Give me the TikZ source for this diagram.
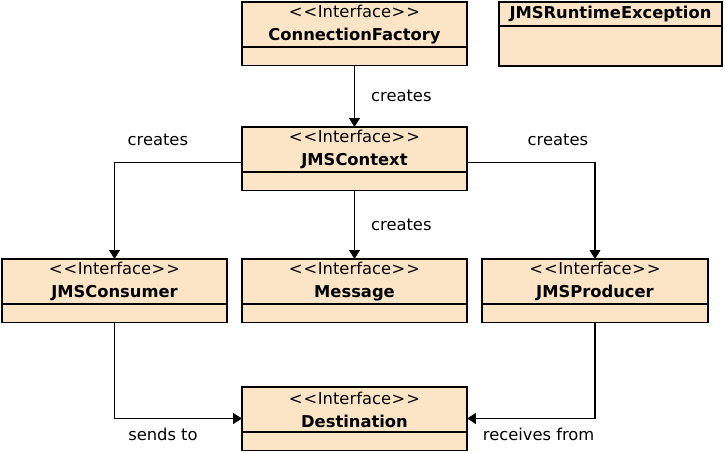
\documentclass[tikz,border=0pt]{standalone}
\usepackage{fontspec}
\setmainfont{DejaVu Sans}
\usetikzlibrary{arrows.meta,positioning}
\definecolor{classfill}{RGB}{252,229,198}
\newcommand{\iface}{\textless\kern0.6pt\textless\kern0.3pt Interface\kern0.3pt\textgreater\kern0.6pt\textgreater}

\begin{document}
\begin{tikzpicture}[
    x=0.02cm,y=-0.02cm,
    head/.style={rectangle,draw,fill=classfill,line width=1pt,outer sep=0pt,inner sep=0pt,minimum width=4.5cm,minimum height=0.9cm,align=center,anchor=north,font=\fontsize{9.3}{13}\selectfont},
    body/.style={rectangle,draw,fill=classfill,line width=1pt,outer sep=0pt,inner sep=0pt,minimum width=4.5cm,minimum height=0.37cm},
    lbl/.style={font=\fontsize{9.3}{11}\selectfont},
    arrow/.style={line width=0.9pt,-{Triangle[width=6pt,length=5pt]}}
]
    \useasboundingbox (0,0) rectangle (725,453);

    % top row
    \node[head] (cf) at (354.5,2) {\iface\\\textbf{ConnectionFactory}};
    \node[body,below=0pt of cf] (cf_body) {};
    \node[head,minimum width=4.46cm,minimum height=0.48cm] (exc) at (610.5,2) {\textbf{JMSRuntimeException}};
    \node[body,minimum width=4.46cm,minimum height=0.8cm,below=0pt of exc] (exc_body) {};

    % context
    \node[head] (ctx) at (354.5,127) {\iface\\\textbf{JMSContext}};
    \node[body,below=0pt of ctx] (ctx_body) {};

    % consumer, message, producer
    \node[head] (cons) at (114.5,259) {\iface\\\textbf{JMSConsumer}};
    \node[body,below=0pt of cons] (cons_body) {};
    \node[head] (msg) at (354.5,259) {\iface\\\textbf{Message}};
    \node[body,below=0pt of msg] (msg_body) {};
    \node[head,minimum width=4.52cm] (prod) at (595,259) {\iface\\\textbf{JMSProducer}};
    \node[body,minimum width=4.52cm,below=0pt of prod] (prod_body) {};

    % destination
    \node[head] (dest) at (354.5,387) {\iface\\\textbf{Destination}};
    \node[body,below=0pt of dest] (dest_body) {};

    % creates
    \draw[arrow] (cf_body) -- node[lbl,right=0.2cm] {creates} (ctx);
    \draw[arrow] ([yshift=-0.26cm]ctx.west) -| node[lbl,above=0.2cm,pos=0.33] {creates} (cons);
    \draw[arrow] ([yshift=-0.26cm]ctx.east) -| node[lbl,above=0.2cm,pos=0.355] {creates} (prod);
    \draw[arrow] (ctx_body) -- node[lbl,right=0.2cm] {creates} (msg);

    % destination links
    \draw[arrow] (cons_body) |- node[lbl,below=0.06cm,pos=0.69] {sends to} ([yshift=-0.18cm]dest.west);
    \draw[arrow] (prod_body) |- node[lbl,below=0.06cm,pos=0.72] {receives from} ([yshift=-0.18cm]dest.east);
\end{tikzpicture}
\end{document}
